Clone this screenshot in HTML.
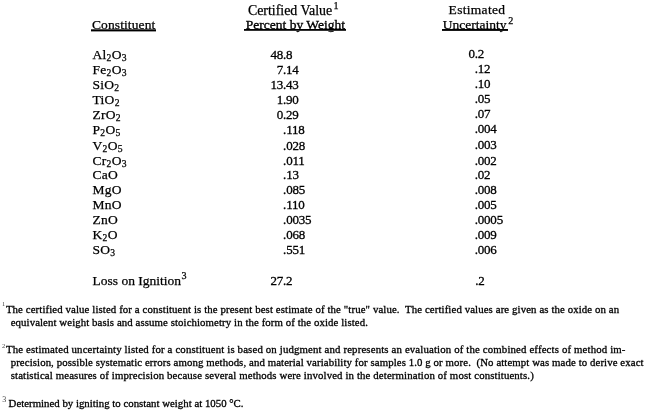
<!DOCTYPE html>
<html lang="en">
<head>
<meta charset="utf-8">
<title>Certified Values</title>
<style>
html,body{margin:0;padding:0;background:#fff;}
body{width:648px;height:414px;overflow:hidden;position:relative;font-family:"Liberation Serif","Times New Roman",serif;color:#000;}
.t{position:absolute;white-space:nowrap;line-height:1;-webkit-text-stroke:0.25px #000;}
.u{text-decoration:underline;text-decoration-thickness:1.2px;text-underline-offset:0px;text-decoration-skip-ink:none;}
.ul{position:absolute;}
.sb{font-size:9.6px;position:relative;top:1.6px;}
.sp{font-size:10.1px;position:relative;top:-4.5px;}
.f{-webkit-text-stroke:0.3px #000;}
.m{color:#444;-webkit-text-stroke:0;}
</style>
</head>
<body>
<div class="t" style="left:92.00px;top:18.00px;font-size:13.5px;letter-spacing:0.1px;">Constituent</div>
<div class="ul" style="left:91.2px;top:29px;width:64.8px;height:3px;background:linear-gradient(to bottom,#4d4d4d 0.00% 33.33%,#000000 33.33% 66.67%,#999999 66.67% 100.00%)"></div>
<div class="t" style="left:247.90px;top:4.00px;font-size:13.9px;">Certified Value<span class="sp" style="top:-6px;margin-left:1.5px">1</span></div>
<div class="t" style="left:245.80px;top:18.00px;font-size:13.5px;transform:scaleY(0.88);transform-origin:0 11px;-webkit-text-stroke:0.35px #000;">Percent by Weight</div>
<div class="ul" style="left:244.2px;top:29px;width:101.7px;height:2px;background:linear-gradient(to bottom,#000000 0.00% 50.00%,#333333 50.00% 100.00%)"></div>
<div class="t" style="left:448.60px;top:3.00px;font-size:13.5px;letter-spacing:0.3px;">Estimated</div>
<div class="t" style="left:442.70px;top:18.00px;font-size:13.5px;">Uncertainty<span class="sp" style="top:-5.5px;margin-left:1.8px">2</span></div>
<div class="ul" style="left:441.5px;top:29px;width:66.3px;height:2px;background:linear-gradient(to bottom,#000000 0.00% 50.00%,#191919 50.00% 100.00%)"></div>
<div class="t" style="left:92.60px;top:48.00px;font-size:13.5px;letter-spacing:0.25px;">Al<span class="sb">2</span>O<span class="sb">3</span></div>
<div class="t" style="left:270.40px;top:48.00px;font-size:13.0px;letter-spacing:-0.2px;-webkit-text-stroke:0.3px #000;">48.8</div>
<div class="t" style="left:468.40px;top:47.00px;font-size:13.0px;letter-spacing:-0.2px;-webkit-text-stroke:0.3px #000;">0.2</div>
<div class="t" style="left:92.60px;top:63.00px;font-size:13.5px;letter-spacing:0.25px;">Fe<span class="sb">2</span>O<span class="sb">3</span></div>
<div class="t" style="left:276.70px;top:63.00px;font-size:13.0px;letter-spacing:-0.2px;-webkit-text-stroke:0.3px #000;">7.14</div>
<div class="t" style="left:474.70px;top:62.00px;font-size:13.0px;letter-spacing:-0.2px;-webkit-text-stroke:0.3px #000;">.12</div>
<div class="t" style="left:92.60px;top:78.00px;font-size:13.5px;letter-spacing:0.25px;">SiO<span class="sb">2</span></div>
<div class="t" style="left:270.40px;top:78.00px;font-size:13.0px;letter-spacing:-0.2px;-webkit-text-stroke:0.3px #000;">13.43</div>
<div class="t" style="left:474.70px;top:77.00px;font-size:13.0px;letter-spacing:-0.2px;-webkit-text-stroke:0.3px #000;">.10</div>
<div class="t" style="left:92.60px;top:93.00px;font-size:13.5px;letter-spacing:0.25px;">TiO<span class="sb">2</span></div>
<div class="t" style="left:276.70px;top:93.00px;font-size:13.0px;letter-spacing:-0.2px;-webkit-text-stroke:0.3px #000;">1.90</div>
<div class="t" style="left:474.70px;top:92.00px;font-size:13.0px;letter-spacing:-0.2px;-webkit-text-stroke:0.3px #000;">.05</div>
<div class="t" style="left:92.60px;top:108.00px;font-size:13.5px;letter-spacing:0.25px;">ZrO<span class="sb">2</span></div>
<div class="t" style="left:276.70px;top:108.00px;font-size:13.0px;letter-spacing:-0.2px;-webkit-text-stroke:0.3px #000;">0.29</div>
<div class="t" style="left:474.70px;top:107.00px;font-size:13.0px;letter-spacing:-0.2px;-webkit-text-stroke:0.3px #000;">.07</div>
<div class="t" style="left:92.60px;top:123.00px;font-size:13.5px;letter-spacing:0.25px;">P<span class="sb">2</span>O<span class="sb">5</span></div>
<div class="t" style="left:283.10px;top:123.00px;font-size:13.0px;letter-spacing:-0.2px;-webkit-text-stroke:0.3px #000;">.118</div>
<div class="t" style="left:474.70px;top:122.00px;font-size:13.0px;letter-spacing:-0.2px;-webkit-text-stroke:0.3px #000;">.004</div>
<div class="t" style="left:92.60px;top:139.00px;font-size:13.5px;letter-spacing:0.25px;">V<span class="sb">2</span>O<span class="sb">5</span></div>
<div class="t" style="left:283.10px;top:139.00px;font-size:13.0px;letter-spacing:-0.2px;-webkit-text-stroke:0.3px #000;">.028</div>
<div class="t" style="left:474.70px;top:138.00px;font-size:13.0px;letter-spacing:-0.2px;-webkit-text-stroke:0.3px #000;">.003</div>
<div class="t" style="left:92.60px;top:154.00px;font-size:13.5px;letter-spacing:0.25px;">Cr<span class="sb">2</span>O<span class="sb">3</span></div>
<div class="t" style="left:283.10px;top:154.00px;font-size:13.0px;letter-spacing:-0.2px;-webkit-text-stroke:0.3px #000;">.011</div>
<div class="t" style="left:474.70px;top:154.00px;font-size:13.0px;letter-spacing:-0.2px;-webkit-text-stroke:0.3px #000;">.002</div>
<div class="t" style="left:92.60px;top:168.00px;font-size:13.5px;letter-spacing:0.25px;">CaO</div>
<div class="t" style="left:283.10px;top:168.00px;font-size:13.0px;letter-spacing:-0.2px;-webkit-text-stroke:0.3px #000;">.13</div>
<div class="t" style="left:474.70px;top:168.00px;font-size:13.0px;letter-spacing:-0.2px;-webkit-text-stroke:0.3px #000;">.02</div>
<div class="t" style="left:92.60px;top:183.00px;font-size:13.5px;letter-spacing:0.25px;">MgO</div>
<div class="t" style="left:283.10px;top:183.00px;font-size:13.0px;letter-spacing:-0.2px;-webkit-text-stroke:0.3px #000;">.085</div>
<div class="t" style="left:474.70px;top:183.00px;font-size:13.0px;letter-spacing:-0.2px;-webkit-text-stroke:0.3px #000;">.008</div>
<div class="t" style="left:92.60px;top:198.00px;font-size:13.5px;letter-spacing:0.25px;">MnO</div>
<div class="t" style="left:283.10px;top:198.00px;font-size:13.0px;letter-spacing:-0.2px;-webkit-text-stroke:0.3px #000;">.110</div>
<div class="t" style="left:474.70px;top:198.00px;font-size:13.0px;letter-spacing:-0.2px;-webkit-text-stroke:0.3px #000;">.005</div>
<div class="t" style="left:92.60px;top:213.00px;font-size:13.5px;letter-spacing:0.25px;">ZnO</div>
<div class="t" style="left:283.10px;top:213.00px;font-size:13.0px;letter-spacing:-0.2px;-webkit-text-stroke:0.3px #000;">.0035</div>
<div class="t" style="left:474.70px;top:213.00px;font-size:13.0px;letter-spacing:-0.2px;-webkit-text-stroke:0.3px #000;">.0005</div>
<div class="t" style="left:92.60px;top:228.00px;font-size:13.5px;letter-spacing:0.25px;">K<span class="sb">2</span>O</div>
<div class="t" style="left:283.10px;top:228.00px;font-size:13.0px;letter-spacing:-0.2px;-webkit-text-stroke:0.3px #000;">.068</div>
<div class="t" style="left:474.70px;top:228.00px;font-size:13.0px;letter-spacing:-0.2px;-webkit-text-stroke:0.3px #000;">.009</div>
<div class="t" style="left:92.60px;top:243.00px;font-size:13.5px;letter-spacing:0.25px;">SO<span class="sb">3</span></div>
<div class="t" style="left:283.10px;top:243.00px;font-size:13.0px;letter-spacing:-0.2px;-webkit-text-stroke:0.3px #000;">.551</div>
<div class="t" style="left:474.70px;top:243.00px;font-size:13.0px;letter-spacing:-0.2px;-webkit-text-stroke:0.3px #000;">.006</div>
<div class="t" style="left:92.60px;top:274.00px;font-size:13.5px;">Loss on Ignition<span class="sp" style="top:-6px;margin-left:0.5px">3</span></div>
<div class="t" style="left:270.40px;top:274.00px;font-size:13.0px;letter-spacing:-0.2px;-webkit-text-stroke:0.3px #000;">27.2</div>
<div class="t" style="left:475.20px;top:274.00px;font-size:13.0px;letter-spacing:-0.2px;-webkit-text-stroke:0.3px #000;">.2</div>
<div class="t f" style="left:5.90px;top:304.00px;letter-spacing:0.108px;font-size:10.8px">The certified value listed for a constituent is the present best estimate of the "true" value.&nbsp; The certified values are given as the oxide on an</div>
<div class="t f" style="left:10.70px;top:317.00px;letter-spacing:0.091px;font-size:10.8px">equivalent weight basis and assume stoichiometry in the form of the oxide listed.</div>
<div class="t f" style="left:5.90px;top:344.00px;letter-spacing:0.149px;font-size:10.8px">The estimated uncertainty listed for a constituent is based on judgment and represents an evaluation of the combined effects of method im-</div>
<div class="t f" style="left:10.70px;top:357.00px;letter-spacing:0.095px;font-size:10.8px">precision, possible systematic errors among methods, and material variability for samples 1.0 g or more.&nbsp; (No attempt was made to derive exact</div>
<div class="t f" style="left:10.70px;top:370.00px;letter-spacing:0.128px;font-size:10.8px">statistical measures of imprecision because several methods were involved in the determination of most constituents.)</div>
<div class="t f" style="left:8.60px;top:398.00px;letter-spacing:0.012px;font-size:10.8px">Determined by igniting to constant weight at 1050 °C.</div>
<div class="t m" style="left:2.00px;top:301.00px;font-size:6.5px">1</div>
<div class="t m" style="left:2.00px;top:343.00px;font-size:6.5px">2</div>
<div class="t m" style="left:2.20px;top:396.00px;font-size:8.0px">3</div>
</body>
</html>
